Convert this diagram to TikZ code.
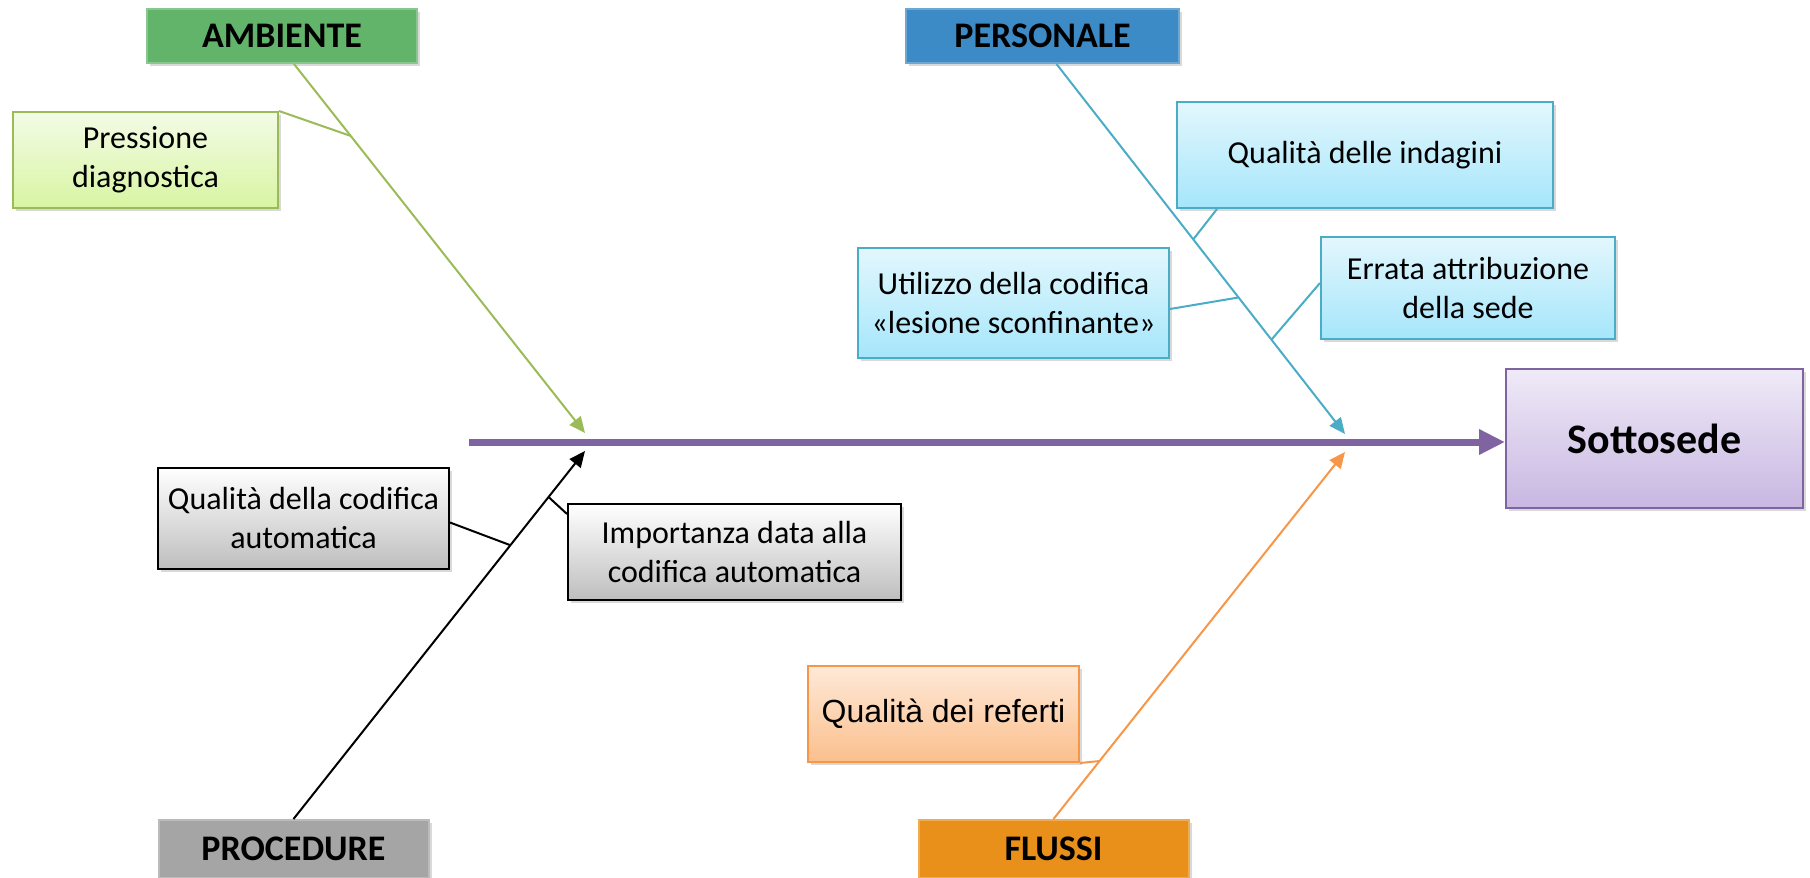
\documentclass[tikz,border=0pt]{standalone}
\usepackage{fontspec}
\setmainfont{Carlito}
\newfontfamily\arialfont{Liberation Sans}
\usetikzlibrary{arrows.meta,shadows}
\definecolor{ambgreen}{HTML}{63B46B}
\definecolor{perblue}{HTML}{3D8BC6}
\definecolor{progray}{HTML}{A5A5A5}
\definecolor{fluorange}{HTML}{E8901A}
\definecolor{lgreen}{HTML}{9BBB59}
\definecolor{lblue}{HTML}{4BACC6}
\definecolor{lorange}{HTML}{F79646}
\definecolor{lpurple}{HTML}{8064A2}
\definecolor{greentop}{HTML}{F3FBE6}
\definecolor{greenbot}{HTML}{D8F5A2}
\definecolor{bluetop}{HTML}{E3F7FD}
\definecolor{bluebot}{HTML}{A5E6FB}
\definecolor{orangetop}{HTML}{FEE9D8}
\definecolor{orangebot}{HTML}{FBBF8D}
\definecolor{purpletop}{HTML}{EFEAF7}
\definecolor{purplebot}{HTML}{C8B7E2}
\definecolor{graybot}{HTML}{BEBEBE}
\tikzset{
  shade/.style={drop shadow={opacity=0.3,shadow xshift=1.5pt,shadow yshift=-1.5pt}},
  catbox/.style={fill=#1, draw=#1!75!white, line width=1pt, shade, inner sep=0pt,
    minimum width=135pt, minimum height=27pt, font=\fontsize{18}{21}\selectfont\bfseries},
  subbox/.style={line width=1pt, shade, inner sep=0pt, align=center,
    font=\fontsize{16}{19.5}\selectfont},
  subgreen/.style={subbox, draw=lgreen, top color=greentop, bottom color=greenbot},
  subblue/.style={subbox, draw=lblue, top color=bluetop, bottom color=bluebot},
  subgray/.style={subbox, draw=black, top color=white, bottom color=graybot},
  suborange/.style={subbox, draw=lorange, top color=orangetop, bottom color=orangebot},
  branch/.style={draw=#1, line width=1pt, -{Triangle[length=8pt,width=7pt]}},
  twig/.style={draw=#1, line width=1pt}
}
\begin{document}
\begin{tikzpicture}[x=0.5pt,y=-0.5pt]
    \useasboundingbox (0,0) rectangle (1810,878);
    \node[catbox=ambgreen] (amb) at (282,36) {AMBIENTE};
    \node[catbox=perblue, minimum width=136.5pt] (per) at (1042.5,36) {PERSONALE};
    \node[catbox=progray, minimum height=29pt] (pro) at (293.5,849) {PROCEDURE};
    \node[catbox=fluorange, minimum height=29pt] (flu) at (1053.5,849) {FLUSSI};
    \node[subgreen, minimum width=132.5pt, minimum height=48pt] (pres) at (145.5,160) {Pressione\\diagnostica};
    \node[subblue, minimum width=188pt, minimum height=53pt] (ind) at (1365,155) {Qualità delle indagini};
    \node[subblue, minimum width=155.5pt, minimum height=55pt] (util) at (1013.5,303) {Utilizzo della codifica\\«lesione sconfinante»};
    \node[subblue, minimum width=147pt, minimum height=51pt] (err) at (1468,288) {Errata attribuzione\\della sede};
    \node[subgray, minimum width=145.5pt, minimum height=50.5pt] (cod) at (303.5,518.5) {Qualità della codifica\\automatica};
    \node[subgray, minimum width=166.5pt, minimum height=48pt] (imp) at (734.5,552) {Importanza data alla\\codifica automatica};
    \node[suborange, minimum width=135.5pt, minimum height=48pt, font=\arialfont\fontsize{16}{19.5}\selectfont] (ref) at (943.5,714) {Qualità dei referti};
    \node[subbox, draw=lpurple, top color=purpletop, bottom color=purplebot,
      minimum width=148.5pt, minimum height=69.5pt, font=\fontsize{21}{25}\selectfont\bfseries] (sot) at (1654.5,438.5) {Sottosede};
    \coordinate (tail) at (469,442);
    \coordinate (tipA) at (585,433);
    \coordinate (tipB) at (1345,434);
    \coordinate (tipC) at (585,451);
    \coordinate (tipD) at (1345,452);
    \draw[lpurple, line width=3.5pt, -{Triangle[length=13pt,width=12pt]}] (tail) -- (tail -| sot.west);
    \draw[branch=lgreen] ([xshift=6pt]amb.south) -- (tipA) coordinate[pos=0.195] (jpres);
    \draw[branch=lblue] ([xshift=7pt]per.south) -- (tipB) coordinate[pos=0.474] (jind) coordinate[pos=0.631] (jutil) coordinate[pos=0.745] (jerr);
    \draw[branch=black] (pro.north) -- (tipC) coordinate[pos=0.744] (jcod) coordinate[pos=0.875] (jimp);
    \draw[branch=lorange] (flu.north) -- (tipD) coordinate[pos=0.158] (jref);
    \draw[twig=lgreen] (pres.north east) -- (jpres);
    \draw[twig=lblue] ([xshift=20.5pt]ind.south west) -- (jind);
    \draw[twig=lblue] ([yshift=-3pt]util.east) -- (jutil);
    \draw[twig=lblue] ([yshift=2.5pt]err.west) -- (jerr);
    \draw[twig=black] ([yshift=-2pt]cod.east) -- (jcod);
    \draw[twig=black] ([yshift=-5.5pt]imp.north west) -- (jimp);
    \draw[twig=lorange] (ref.south east) -- (jref);
\end{tikzpicture}
\end{document}
